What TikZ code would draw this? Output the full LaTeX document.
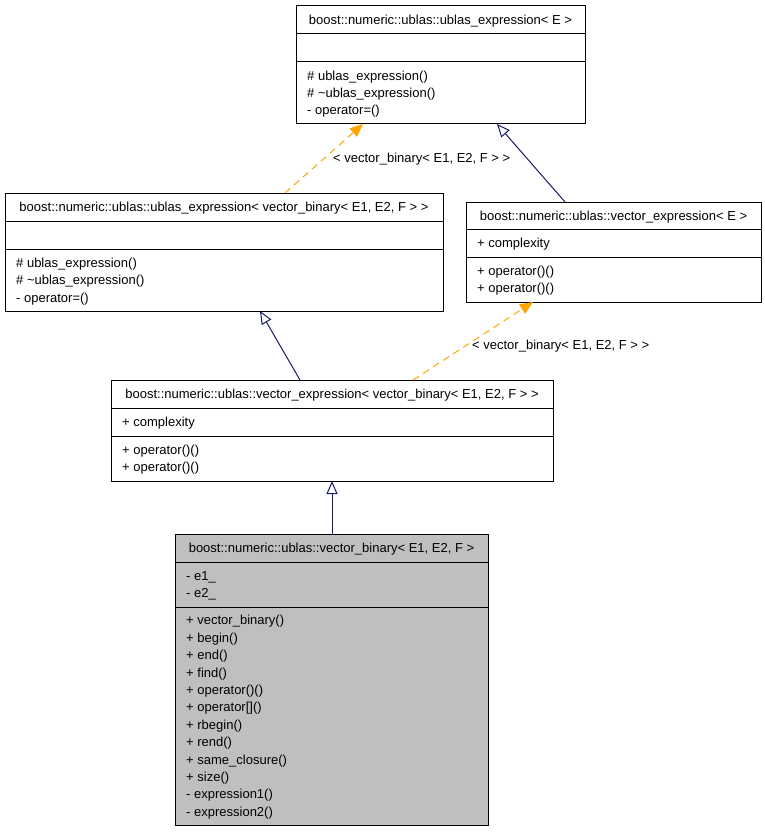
\documentclass[tikz,border=0pt]{standalone}
\usepackage{fontspec}
\setmainfont{Liberation Sans}
\usetikzlibrary{arrows.meta,calc}
\definecolor{inhblue}{HTML}{191970}
\definecolor{tmplorange}{HTML}{FFA500}
\definecolor{clsgray}{HTML}{BFBFBF}
\tikzset{
  cls/.style={draw=black, line width=1pt, anchor=north west, inner sep=0pt, outer sep=0pt},
  ttl/.style={anchor=base, font=\fontsize{13}{15}\selectfont, inner sep=0pt},
  mem/.style={anchor=base west, font=\fontsize{13}{15}\selectfont, inner sep=0pt},
  sep/.style={draw=black, line width=1pt},
  inh/.style={draw=inhblue, line width=1pt, -{Triangle[open, length=13pt, width=11pt]}},
  tmpl/.style={draw=tmplorange, line width=1pt, dash pattern=on 7pt off 5pt, -{Triangle[length=13pt, width=11pt, fill=tmplorange]}},
  lbl/.style={anchor=base west, font=\fontsize{13}{15}\selectfont, inner sep=0pt},
}
\begin{document}
\begin{tikzpicture}[x=1pt, y=-1pt]
\useasboundingbox (0,0) rectangle (765,832);
% Box A
\node[cls, minimum width=289pt, minimum height=118pt] (A) at (296,6) {};
\draw[sep] (296,34) -- (585,34);
\draw[sep] (296,62) -- (585,62);
\node[ttl] (At) at (440.5,24.6) {boost::numeric::ublas::ublas\_expression< E >};
\node[mem] (Am1) at (307,80.2) {\# ublas\_expression()};
\node[mem] (Am2) at (307,97.6) {\# \textasciitilde ublas\_expression()};
\node[mem] (Am3) at (307,115) {- operator=()};
% Box B
\node[cls, minimum width=438pt, minimum height=118pt] (B) at (5,193) {};
\draw[sep] (5,221) -- (443,221);
\draw[sep] (5,249) -- (443,249);
\node[ttl] (Bt) at (224,211.6) {boost::numeric::ublas::ublas\_expression< vector\_binary< E1, E2, F > >};
\node[mem] (Bm1) at (16,267.2) {\# ublas\_expression()};
\node[mem] (Bm2) at (16,284.6) {\# \textasciitilde ublas\_expression()};
\node[mem] (Bm3) at (16,302) {- operator=()};
% Box C
\node[cls, minimum width=295pt, minimum height=100pt] (C) at (466,202) {};
\draw[sep] (466,229) -- (761,229);
\draw[sep] (466,257) -- (761,257);
\node[ttl] (Ct) at (613.5,220.1) {boost::numeric::ublas::vector\_expression< E >};
\node[mem] (Ca1) at (477,247.6) {+ complexity};
\node[mem] (Cm1) at (477,275.4) {+ operator()()};
\node[mem] (Cm2) at (477,292.8) {+ operator()()};
% Box D
\node[cls, minimum width=442pt, minimum height=101pt] (D) at (111,380) {};
\draw[sep] (111,408) -- (553,408);
\draw[sep] (111,436) -- (553,436);
\node[ttl] (Dt) at (332,398.6) {boost::numeric::ublas::vector\_expression< vector\_binary< E1, E2, F > >};
\node[mem] (Da1) at (122,426.6) {+ complexity};
\node[mem] (Dm1) at (122,454.4) {+ operator()()};
\node[mem] (Dm2) at (122,471.8) {+ operator()()};
% Box E
\node[cls, fill=clsgray, minimum width=313pt, minimum height=291pt] (E) at (175,534) {};
\draw[sep] (175,562) -- (488,562);
\draw[sep] (175,607) -- (488,607);
\node[ttl] (Et) at (331.5,552.6) {boost::numeric::ublas::vector\_binary< E1, E2, F >};
\node[mem] (Ea1) at (186,580.4) {- e1\_};
\node[mem] (Ea2) at (186,597.8) {- e2\_};
\foreach \t [count=\i from 0] in {+ vector\_binary(),+ begin(),+ end(),+ find(),+ operator()(),+ operator[](),+ rbegin(),+ rend(),+ same\_closure(),+ size(),- expression1(),- expression2()}
  \node[mem] (Em\i) at (186,{624.9+17.4*\i}) {\t};
% Connectors
\draw[tmpl] ($(B.north west)+(280,0)$) -- ($(A.south west)+(67,0)$);
\draw[inh] ($(C.north west)+(99,0)$) -- ($(A.south west)+(201,0)$);
\draw[inh] ($(D.north west)+(189,0)$) -- ($(B.south west)+(255,0)$);
\draw[tmpl] ($(D.north west)+(302,0)$) -- ($(C.south west)+(67,0)$);
\draw[inh] ($(E.north west)+(157,0)$) -- ($(D.south west)+(221,0)$);
% Labels
\node[lbl] (L1) at (333,162.5) {< vector\_binary< E1, E2, F > >};
\node[lbl] (L2) at (472,349.5) {< vector\_binary< E1, E2, F > >};
\end{tikzpicture}
\end{document}
